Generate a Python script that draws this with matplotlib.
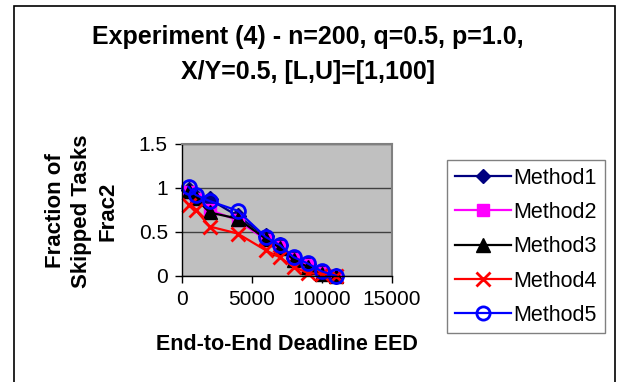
import matplotlib
matplotlib.use("Agg")
import matplotlib.pyplot as plt
from matplotlib.patches import Rectangle

plt.rcParams['font.family'] = ['Liberation Sans', 'DejaVu Sans']

eed = [500, 1000, 2000, 4000, 6000, 7000, 8000, 9000, 10000, 11000]
method1 = [0.98, 0.90, 0.87, 0.68, 0.45, 0.35, 0.20, 0.13, 0.04, 0.0]
method2 = [0.95, 0.87, 0.75, 0.63, 0.41, 0.33, 0.19, 0.12, 0.03, 0.0]
method3 = [0.97, 0.88, 0.72, 0.65, 0.42, 0.32, 0.18, 0.10, 0.02, 0.0]
method4 = [0.81, 0.75, 0.56, 0.48, 0.29, 0.21, 0.10, 0.03, 0.02, 0.0]
method5 = [1.01, 0.92, 0.85, 0.74, 0.44, 0.35, 0.21, 0.14, 0.05, 0.0]
names = ["Method1", "Method2", "Method3", "Method4", "Method5"]
xticks = [0, 5000, 10000, 15000]
yticks = [0, 0.5, 1, 1.5]

styles = [
    dict(color="#000080", marker="D", markersize=8, mfc="#000080", mec="#000080"),
    dict(color="#FF00FF", marker="s", markersize=9, mfc="#FF00FF", mec="#FF00FF"),
    dict(color="#000000", marker="^", markersize=10, mfc="#000000", mec="#000000"),
    dict(color="#FF0000", marker="x", markersize=10, mew=2),
    dict(color="#0000FF", marker="o", markersize=10, mfc="none", mec="#0000FF", mew=2),
]

fig = plt.figure(figsize=(6.18, 3.82), dpi=100)
fig.patches.append(Rectangle((14/618, -0.01), (615-14)/618, 1 - 6/382 + 0.01,
                             transform=fig.transFigure, fill=False,
                             edgecolor="black", linewidth=1.2))

ax = fig.add_axes([181.7/618, 1 - 275.7/382, 210/618, 131.7/382])
ax.set_facecolor("#C0C0C0")
for vals, name, st in zip([method1, method2, method3, method4, method5], names, styles):
    ax.plot(eed, vals, linewidth=1.6, label=name, clip_on=False, **st)

ax.set_xlim(0, 15000)
ax.set_ylim(0, 1.5)
ax.set_xticks(xticks)
ax.set_yticks(yticks)
ax.set_xticklabels([str(t) for t in xticks])
ax.set_yticklabels(["0", "0.5", "1", "1.5"])
ax.yaxis.grid(True, color="#404040", linewidth=1)
ax.set_axisbelow(True)
for s in ["top", "right"]:
    ax.spines[s].set_color("#808080")
    ax.spines[s].set_linewidth(1.5)
for s in ["left", "bottom"]:
    ax.spines[s].set_color("#000000")
    ax.spines[s].set_linewidth(1)
ax.tick_params(axis="both", labelsize=15, direction="out", length=5, width=1, pad=5)

fig.text(308/618, 1 - 37/382, "Experiment (4) - n=200, q=0.5, p=1.0,", ha="center", va="center",
         fontsize=18, fontweight="bold")
fig.text(308/618, 1 - 72/382, "X/Y=0.5, [L,U]=[1,100]", ha="center", va="center",
         fontsize=18, fontweight="bold")
fig.text(82/618, 1 - 211/382, "Fraction of\nSkipped Tasks\nFrac2", ha="center", va="center",
         rotation=90, fontsize=16, fontweight="bold", linespacing=1.33)
fig.text(287/618, 1 - 345/382, "End-to-End Deadline EED", ha="center", va="center",
         fontsize=15.5, fontweight="bold")

leg_handles = []
for name, st in zip(names, styles):
    s2 = dict(st)
    s2["markersize"] = st["markersize"] * 0.95
    h, = ax.plot([], [], linewidth=1.6, **s2)
    leg_handles.append(h)
leg = fig.legend(leg_handles, names, loc="upper left",
                 bbox_to_anchor=(447/618, 1 - 160/382), fontsize=15.5,
                 frameon=True, fancybox=False, edgecolor="#606060",
                 handlelength=2.6, labelspacing=0.62, handletextpad=0.15,
                 borderpad=0.35, borderaxespad=0)
leg.get_frame().set_linewidth(1)

fig.savefig("out.png", dpi=100)
